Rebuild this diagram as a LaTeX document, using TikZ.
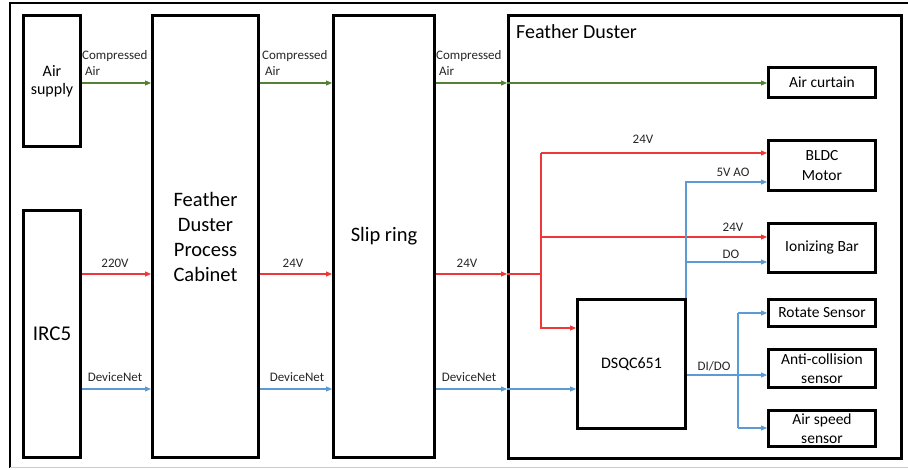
\documentclass[tikz,border=0pt]{standalone}
\usepackage{fontspec}
\setmainfont{Carlito}
\usetikzlibrary{arrows.meta,calc}
\definecolor{cgreen}{RGB}{84,130,53}
\definecolor{cred}{RGB}{240,55,55}
\definecolor{cblue}{RGB}{91,155,213}
\begin{document}
\begin{tikzpicture}[x=1pt,y=-1pt,
  blk/.style={draw=black, line width=3pt, fill=white, inner sep=0pt, align=center},
  bigtxt/.style={font=\fontsize{20.5}{25}\selectfont},
  midtxt/.style={font=\fontsize{15.5}{19.5}\selectfont},
  lbl/.style={inner sep=0pt, font=\fontsize{13}{16}\selectfont, text=black!85},
  tip/.style={-{Triangle[length=6pt,width=5pt]}},
  gline/.style={draw=cgreen, line width=1.1pt},
  rline/.style={draw=cred, line width=1.1pt},
  bline/.style={draw=cblue, line width=1.1pt},
  garr/.style={gline, tip},
  rarr/.style={rline, tip},
  barr/.style={bline, tip}]
\useasboundingbox (0,0) rectangle (908,470);
% outer frame
\draw[line width=2pt] (10,468) -- (10,3) -- (910,3);
\draw[black!20, line width=1pt] (10,467) -- (910,467);
% main boxes
\node[blk, font=\fontsize{16}{18}\selectfont, minimum width=57pt, minimum height=131pt] (airs) at (52,81) {Air\\supply};
\node[blk, font=\fontsize{21}{25}\selectfont, minimum width=57pt, minimum height=247pt] (irc) at (52,334) {IRC5};
\node[blk, bigtxt, minimum width=106pt, minimum height=442pt] (cab) at (205.5,236.5) {Feather\\Duster\\Process\\Cabinet};
\node[blk, bigtxt, minimum width=101pt, minimum height=442pt] (slip) at (384,236.5) {Slip ring};
\node[blk, minimum width=393pt, minimum height=443pt] (fd) at (705,237) {};
\node[anchor=west, inner sep=0pt, font=\fontsize{20}{22}\selectfont] (fdt) at (516,32) {Feather Duster};
% inner boxes
\node[blk, midtxt, minimum width=107pt, minimum height=30pt] (cur) at (822,82.5) {Air curtain};
\node[blk, midtxt, minimum width=107pt, minimum height=50pt] (bldc) at (822,165.5) {BLDC\\Motor};
\node[blk, midtxt, minimum width=107pt, minimum height=49pt] (ion) at (822,248) {Ionizing Bar};
\node[blk, midtxt, minimum width=107pt, minimum height=27pt] (rot) at (822,313) {Rotate Sensor};
\node[blk, midtxt, minimum width=107pt, minimum height=38pt] (anti) at (822,368.5) {Anti-collision\\sensor};
\node[blk, midtxt, minimum width=107pt, minimum height=36pt] (aspd) at (822,428.5) {Air speed\\sensor};
\node[blk, font=\fontsize{16}{19}\selectfont, minimum width=108pt, minimum height=129pt] (dsqc) at (631.5,364) {DSQC651};
% levels
\coordinate (gy) at (0,83);
\coordinate (ry) at (0,274);
\coordinate (by) at (0,389);
% green compressed air
\draw[garr] (airs.east |- gy) -- (cab.west |- gy);
\draw[garr] (cab.east |- gy) -- (slip.west |- gy);
\draw[garr] (slip.east |- gy) -- (fd.west |- gy);
\draw[garr] (fd.west |- gy) -- (cur.west |- gy);
% red power
\draw[rarr] (irc.east |- ry) -- (cab.west |- ry);
\draw[rarr] (cab.east |- ry) -- (slip.west |- ry);
\draw[rarr] (slip.east |- ry) -- (fd.west |- ry);
\coordinate (rj) at (541,274);
\coordinate (rtop) at (541,153);
\coordinate (rion) at (541,237);
\coordinate (rbot) at (541,328);
\draw[rline] (fd.west |- ry) -- (rj);
\draw[rarr] (rtop) -- (bldc.west |- rtop);
\draw[rarr] (rion) -- (ion.west |- rion);
\draw[rarr] (rtop) -- (rbot) -- (dsqc.west |- rbot);
% blue devicenet
\draw[barr] (irc.east |- by) -- (cab.west |- by);
\draw[barr] (cab.east |- by) -- (slip.west |- by);
\draw[barr] (slip.east |- by) -- (fd.west |- by);
\draw[barr] (fd.west |- by) -- (dsqc.west |- by);
\coordinate (btop) at (687,182);
\coordinate (bion) at (687,262);
\draw[barr] ([xshift=-1pt]dsqc.north east) -- ([xshift=-1pt]dsqc.north east |- btop) -- (bldc.west |- btop);
\draw[barr] ([xshift=-1pt]bion) -- (ion.west |- bion);
\coordinate (dj) at (738,375);
\coordinate (dtop) at (738,313);
\coordinate (dbot) at (738,428);
\draw[bline] (dsqc.east |- dj) -- (dj);
\draw[bline] (dtop) -- (dbot);
\draw[barr] (dtop) -- (rot.west |- dtop);
\draw[barr] (dj) -- (anti.west |- dj);
\draw[barr] (dbot) -- (aspd.west |- dbot);
% labels
\node[lbl, align=left, anchor=west] (l1) at (82,63) {Compressed\\\hspace*{3pt}Air};
\node[lbl, align=left, anchor=west] (l2) at (262,63) {Compressed\\\hspace*{3pt}Air};
\node[lbl, align=left, anchor=west] (l3) at (436,63) {Compressed\\\hspace*{3pt}Air};
\node[lbl] (v1) at (115,263) {220V};
\node[lbl] (v2) at (293,263) {24V};
\node[lbl] (v3) at (467,263) {24V};
\node[lbl] (n1) at (115,377) {DeviceNet};
\node[lbl] (n2) at (297,377) {DeviceNet};
\node[lbl] (n3) at (469,377) {DeviceNet};
\node[lbl] (v4) at (643,139) {24V};
\node[lbl] (ao) at (733,172) {5V AO};
\node[lbl] (v5) at (733,227) {24V};
\node[lbl] (do) at (731,254) {DO};
\node[lbl] (dido) at (714,366) {DI/DO};
\end{tikzpicture}
\end{document}
